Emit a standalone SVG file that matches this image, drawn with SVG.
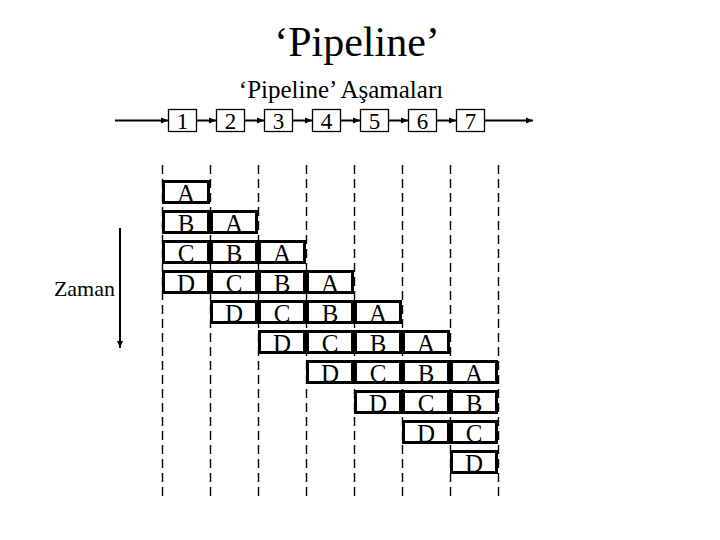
<svg xmlns="http://www.w3.org/2000/svg" width="720" height="540" viewBox="0 0 720 540">
<defs>
<marker id="ah" markerWidth="8" markerHeight="8" refX="7" refY="4" orient="auto" markerUnits="userSpaceOnUse">
<path d="M0,1 L7,4 L0,7 Z" fill="#000"/>
</marker>
</defs>
<g id="titles" font-family="Liberation Serif" fill="#000">
<text x="357" y="56" font-family="Liberation Serif" font-size="42" text-anchor="middle">‘Pipeline’</text>
<text x="341" y="98" font-family="Liberation Serif" font-size="25" text-anchor="middle">‘Pipeline’ Aşamaları</text>
<text x="115" y="296" font-family="Liberation Serif" font-size="22" text-anchor="end">Zaman</text>
</g>
<g id="dashes" stroke="#000" stroke-width="1.4" stroke-dasharray="9 5" fill="none">
<line x1="162.5" y1="165" x2="162.5" y2="496"/>
<line x1="210.5" y1="165" x2="210.5" y2="496"/>
<line x1="258.5" y1="165" x2="258.5" y2="496"/>
<line x1="306.5" y1="165" x2="306.5" y2="496"/>
<line x1="354.5" y1="165" x2="354.5" y2="496"/>
<line x1="402.5" y1="165" x2="402.5" y2="496"/>
<line x1="450.5" y1="165" x2="450.5" y2="496"/>
<line x1="498.5" y1="165" x2="498.5" y2="496"/>
</g>
<g id="connectors" stroke="#000" stroke-width="2" fill="none">
<line x1="115" y1="120.5" x2="168" y2="120.5" marker-end="url(#ah)"/>
<line x1="197" y1="120.5" x2="216" y2="120.5" marker-end="url(#ah)"/>
<line x1="245" y1="120.5" x2="264" y2="120.5" marker-end="url(#ah)"/>
<line x1="293" y1="120.5" x2="312" y2="120.5" marker-end="url(#ah)"/>
<line x1="341" y1="120.5" x2="360" y2="120.5" marker-end="url(#ah)"/>
<line x1="389" y1="120.5" x2="408" y2="120.5" marker-end="url(#ah)"/>
<line x1="437" y1="120.5" x2="456" y2="120.5" marker-end="url(#ah)"/>
<line x1="485" y1="120.5" x2="533" y2="120.5" marker-end="url(#ah)"/>
<line x1="120" y1="228" x2="120" y2="348" marker-end="url(#ah)"/>
</g>
<g id="stages" font-family="Liberation Serif" font-size="23" text-anchor="middle">
<g id="stage1"><rect x="168.5" y="109.5" width="28" height="22" fill="#fff" stroke="#000" stroke-width="1.3"/><text x="182.5" y="129" font-family="Liberation Serif">1</text></g>
<g id="stage2"><rect x="216.5" y="109.5" width="28" height="22" fill="#fff" stroke="#000" stroke-width="1.3"/><text x="230.5" y="129" font-family="Liberation Serif">2</text></g>
<g id="stage3"><rect x="264.5" y="109.5" width="28" height="22" fill="#fff" stroke="#000" stroke-width="1.3"/><text x="278.5" y="129" font-family="Liberation Serif">3</text></g>
<g id="stage4"><rect x="312.5" y="109.5" width="28" height="22" fill="#fff" stroke="#000" stroke-width="1.3"/><text x="326.5" y="129" font-family="Liberation Serif">4</text></g>
<g id="stage5"><rect x="360.5" y="109.5" width="28" height="22" fill="#fff" stroke="#000" stroke-width="1.3"/><text x="374.5" y="129" font-family="Liberation Serif">5</text></g>
<g id="stage6"><rect x="408.5" y="109.5" width="28" height="22" fill="#fff" stroke="#000" stroke-width="1.3"/><text x="422.5" y="129" font-family="Liberation Serif">6</text></g>
<g id="stage7"><rect x="456.5" y="109.5" width="28" height="22" fill="#fff" stroke="#000" stroke-width="1.3"/><text x="470.5" y="129" font-family="Liberation Serif">7</text></g>
</g>
<g id="cells" font-family="Liberation Serif" font-size="25" text-anchor="middle">
<g id="col1" fill="#fff" stroke="#000" stroke-width="3">
<rect x="163.5" y="181.5" width="45" height="21"/><rect x="163.5" y="211.5" width="45" height="21"/><rect x="163.5" y="241.5" width="45" height="21"/><rect x="163.5" y="271.5" width="45" height="21"/>
<g fill="#000" stroke="none"><text x="186" y="202">A</text><text x="186" y="232">B</text><text x="186" y="262">C</text><text x="186" y="292">D</text></g>
</g>
<g id="col2" fill="#fff" stroke="#000" stroke-width="3">
<rect x="211.5" y="211.5" width="45" height="21"/><rect x="211.5" y="241.5" width="45" height="21"/><rect x="211.5" y="271.5" width="45" height="21"/><rect x="211.5" y="301.5" width="45" height="21"/>
<g fill="#000" stroke="none"><text x="234" y="232">A</text><text x="234" y="262">B</text><text x="234" y="292">C</text><text x="234" y="322">D</text></g>
</g>
<g id="col3" fill="#fff" stroke="#000" stroke-width="3">
<rect x="259.5" y="241.5" width="45" height="21"/><rect x="259.5" y="271.5" width="45" height="21"/><rect x="259.5" y="301.5" width="45" height="21"/><rect x="259.5" y="331.5" width="45" height="21"/>
<g fill="#000" stroke="none"><text x="282" y="262">A</text><text x="282" y="292">B</text><text x="282" y="322">C</text><text x="282" y="352">D</text></g>
</g>
<g id="col4" fill="#fff" stroke="#000" stroke-width="3">
<rect x="307.5" y="271.5" width="45" height="21"/><rect x="307.5" y="301.5" width="45" height="21"/><rect x="307.5" y="331.5" width="45" height="21"/><rect x="307.5" y="361.5" width="45" height="21"/>
<g fill="#000" stroke="none"><text x="330" y="292">A</text><text x="330" y="322">B</text><text x="330" y="352">C</text><text x="330" y="382">D</text></g>
</g>
<g id="col5" fill="#fff" stroke="#000" stroke-width="3">
<rect x="355.5" y="301.5" width="45" height="21"/><rect x="355.5" y="331.5" width="45" height="21"/><rect x="355.5" y="361.5" width="45" height="21"/><rect x="355.5" y="391.5" width="45" height="21"/>
<g fill="#000" stroke="none"><text x="378" y="322">A</text><text x="378" y="352">B</text><text x="378" y="382">C</text><text x="378" y="412">D</text></g>
</g>
<g id="col6" fill="#fff" stroke="#000" stroke-width="3">
<rect x="403.5" y="331.5" width="45" height="21"/><rect x="403.5" y="361.5" width="45" height="21"/><rect x="403.5" y="391.5" width="45" height="21"/><rect x="403.5" y="421.5" width="45" height="21"/>
<g fill="#000" stroke="none"><text x="426" y="352">A</text><text x="426" y="382">B</text><text x="426" y="412">C</text><text x="426" y="442">D</text></g>
</g>
<g id="col7" fill="#fff" stroke="#000" stroke-width="3">
<rect x="451.5" y="361.5" width="45" height="21"/><rect x="451.5" y="391.5" width="45" height="21"/><rect x="451.5" y="421.5" width="45" height="21"/><rect x="451.5" y="451.5" width="45" height="21"/>
<g fill="#000" stroke="none"><text x="474" y="382">A</text><text x="474" y="412">B</text><text x="474" y="442">C</text><text x="474" y="472">D</text></g>
</g>
</g>
</svg>
